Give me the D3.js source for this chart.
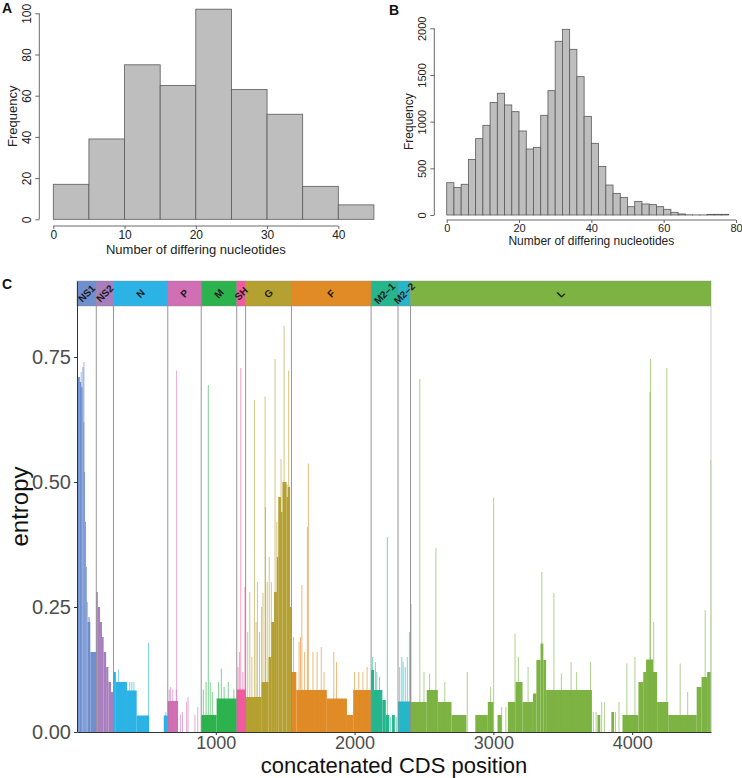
<!DOCTYPE html>
<html>
<head>
<meta charset="utf-8">
<script src="https://cdn.jsdelivr.net/npm/d3@7"></script>
<style>
body { margin: 0; background: #fff; }
svg { display: block; font-family: "Liberation Sans", Arial, sans-serif; }
</style>
</head>
<body>
<div id="chart"></div>
<script>
// panel A histogram
var binsA = [0, 5, 10, 15, 20, 25, 30, 35, 40, 45];
var countsA = [17, 39, 75, 65, 102, 63, 51, 16, 7];
var ticksAx = [0, 10, 20, 30, 40];
var ticksAy = [0, 20, 40, 60, 80, 100];

// panel B histogram
var binsB = [0, 2, 4, 6, 8, 10, 12, 14, 16, 18, 20, 22, 24, 26, 28, 30, 32, 34, 36, 38,
    40, 42, 44, 46, 48, 50, 52, 54, 56, 58, 60, 62, 64, 66, 68, 70, 72, 74, 76, 78, 80];
var countsB = [346, 296, 329, 596, 818, 961, 1204, 1304, 1179, 1107, 900, 707, 725, 1068, 1332,
    1861, 1989, 1775, 1482, 1057, 768, 521, 321, 232, 189, 89, 146, 118, 111, 89, 61, 29, 11,
    2, 1, 1, 7, 7, 7];
var ticksBx = [0, 20, 40, 60, 80];
var ticksBy = [0, 500, 1000, 1500, 2000];

// panel C genes
var genes = ["NS1", "NS2", "N", "P", "M", "SH", "G", "F", "M2\u20131", "M2\u20132", "L"];
var geneStarts = [0, 139, 263, 654, 895, 1151, 1215, 1545, 2119, 2313, 2403];
var geneEnds = [139, 263, 654, 895, 1151, 1215, 1545, 2119, 2313, 2403, 4568];
var geneColors = ["#6f8fcf", "#a77fbe", "#2bb3e6", "#d06fb4", "#2db34d", "#f25aa0",
    "#b5a032", "#e08b26", "#25b68e", "#25b7c9", "#7cb343"];

// entropy: [start, end, value] blocks and single-position [pos, value] spikes
var entropyRuns = [
    [0, 8, 0.60], [8, 20, 0.71], [20, 30, 0.70], [30, 40, 0.69], [40, 46, 0.73], [46, 52, 0.62],
    [52, 58, 0.52], [58, 64, 0.42], [64, 70, 0.33], [70, 76, 0.26], [76, 96, 0.22], [96, 139, 0.16],
    [139, 150, 0.28], [150, 166, 0.25], [166, 180, 0.22], [180, 192, 0.19], [192, 210, 0.16],
    [210, 226, 0.13], [226, 245, 0.10], [245, 263, 0.08],
    [263, 280, 0.12], [280, 360, 0.10], [360, 430, 0.083], [430, 520, 0.033], [625, 654, 0.033],
    [654, 728, 0.062],
    [895, 1006, 0.034], [1006, 1151, 0.067],
    [1151, 1215, 0.085],
    [1215, 1330, 0.07], [1330, 1380, 0.10], [1380, 1400, 0.15], [1400, 1420, 0.22], [1420, 1440, 0.28],
    [1440, 1450, 0.35], [1450, 1470, 0.47], [1470, 1480, 0.44], [1480, 1510, 0.50], [1510, 1520, 0.47],
    [1520, 1535, 0.49], [1535, 1545, 0.25],
    [1545, 1580, 0.12], [1580, 1800, 0.084], [1800, 1945, 0.067], [1945, 1990, 0.034], [1990, 2119, 0.084],
    [2119, 2140, 0.124], [2140, 2200, 0.084], [2200, 2225, 0.064], [2225, 2250, 0.034], [2270, 2290, 0.034],
    [2313, 2403, 0.061],
    [2403, 2520, 0.06], [2520, 2600, 0.084], [2600, 2698, 0.06], [2698, 2806, 0.034], [2870, 2960, 0.034],
    [2960, 3000, 0.06], [3030, 3060, 0.034], [3105, 3160, 0.06], [3160, 3210, 0.10], [3210, 3285, 0.06],
    [3285, 3310, 0.077], [3310, 3340, 0.144], [3340, 3360, 0.177], [3360, 3380, 0.144], [3380, 3710, 0.084],
    [3750, 3770, 0.034], [3850, 3870, 0.04], [3930, 4045, 0.034], [4045, 4080, 0.10], [4080, 4100, 0.12],
    [4100, 4150, 0.145], [4150, 4180, 0.12], [4180, 4260, 0.06], [4260, 4465, 0.034], [4465, 4500, 0.09],
    [4500, 4540, 0.11], [4540, 4568, 0.12]
];
var entropySpikes = [
    [12, 0.71], [30, 0.72], [50, 0.74], [84, 0.23], [90, 0.23],
    [300, 0.125], [380, 0.10], [395, 0.10], [410, 0.10], [515, 0.178], [640, 0.04],
    [665, 0.085], [675, 0.09], [690, 0.085], [715, 0.085], [718, 0.723], [745, 0.035], [760, 0.04],
    [790, 0.06], [800, 0.07], [850, 0.035], [870, 0.05],
    [910, 0.085], [930, 0.10], [946, 0.694], [960, 0.10], [975, 0.08], [1020, 0.10], [1040, 0.127],
    [1060, 0.09], [1090, 0.10], [1130, 0.085],
    [1160, 0.13], [1170, 0.16], [1180, 0.728], [1195, 0.12], [1210, 0.29],
    [1230, 0.2], [1245, 0.28], [1260, 0.15], [1278, 0.664], [1290, 0.22], [1300, 0.30], [1315, 0.2],
    [1330, 0.25], [1340, 0.278], [1355, 0.671], [1358, 0.45], [1370, 0.3], [1385, 0.35], [1400, 0.3],
    [1427, 0.746], [1440, 0.42], [1470, 0.546], [1492, 0.812], [1515, 0.495], [1525, 0.723],
    [1560, 0.19], [1600, 0.18], [1610, 0.19], [1620, 0.294], [1640, 0.16], [1660, 0.41], [1667, 0.537],
    [1700, 0.16], [1730, 0.16], [1760, 0.17], [1780, 0.12], [1850, 0.16], [1870, 0.14], [2000, 0.12],
    [2030, 0.12], [2060, 0.12], [2090, 0.13],
    [2130, 0.15], [2150, 0.14], [2160, 0.12], [2180, 0.11], [2236, 0.39], [2260, 0.03], [2300, 0.03],
    [2325, 0.13], [2340, 0.15], [2350, 0.14], [2365, 0.13], [2380, 0.15], [2395, 0.20],
    [2407, 0.256], [2470, 0.706], [2500, 0.12], [2540, 0.117], [2586, 0.368], [2650, 0.10], [2812, 0.12],
    [2980, 0.09], [3002, 0.469], [3060, 0.05], [3090, 0.05], [3156, 0.197], [3180, 0.15], [3250, 0.13],
    [3349, 0.32], [3436, 0.278], [3490, 0.117], [3560, 0.14], [3600, 0.12], [3700, 0.14], [3720, 0.04],
    [3740, 0.04], [3780, 0.06], [3800, 0.06], [3880, 0.04], [3905, 0.06], [3962, 0.137], [4020, 0.15],
    [4128, 0.68], [4132, 0.746], [4155, 0.22], [4250, 0.728], [4346, 0.137], [4400, 0.08], [4526, 0.244],
    [4567, 0.544]
];
var ticksCx = [1000, 2000, 3000, 4000];
var ticksCy = [0, 0.25, 0.5, 0.75];

var svg = d3.select("#chart").append("svg")
    .attr("width", 742)
    .attr("height", 778);

function drawHist(bins, counts, x, y, xAxisY, yAxisX, ticksX, ticksY, fs, title) {
    var g = svg.append("g");
    g.selectAll("rect")
        .data(counts)
        .enter()
        .append("rect")
        .attr("x", function (d, i) { return x(bins[i]); })
        .attr("y", function (d) { return y(d); })
        .attr("width", function (d, i) { return x(bins[i + 1]) - x(bins[i]); })
        .attr("height", function (d) { return y(0) - y(d); })
        .attr("fill", "#bebebe")
        .attr("stroke", "#5a5a5a")
        .attr("stroke-width", 0.8);

    var xa = g.append("g")
        .attr("transform", `translate(0, ${xAxisY})`)
        .call(d3.axisBottom(x).tickValues(ticksX).tickFormat(d3.format("d"))
            .tickSize(3).tickSizeOuter(0).tickPadding(1));
    var ya = g.append("g")
        .attr("transform", `translate(${yAxisX}, 0)`)
        .call(d3.axisLeft(y).tickValues(ticksY).tickFormat(d3.format("d"))
            .tickSize(4).tickSizeOuter(0));
    [xa, ya].forEach(function (a) {
        a.selectAll("path, line").attr("stroke", "#444").attr("stroke-width", 0.8);
        a.selectAll("text").attr("fill", "#222").style("font-size", fs + "px");
    });
    xa.select(".domain").attr("d", `M${x(ticksX[0])},0H${x(ticksX[ticksX.length - 1])}`);
    ya.select(".domain").attr("d", `M0,${y(ticksY[0])}V${y(ticksY[ticksY.length - 1])}`);
    ya.selectAll("text")
        .attr("x", null).attr("dy", null)
        .attr("text-anchor", "middle")
        .attr("transform", "translate(-8,0) rotate(-90)");

    g.append("text")
        .attr("x", (x(ticksX[0]) + x(ticksX[ticksX.length - 1])) / 2 + title.dx)
        .attr("y", title.xy)
        .attr("text-anchor", "middle")
        .style("font-size", (fs + 1) + "px")
        .attr("fill", "#222")
        .text("Number of differing nucleotides");
    g.append("text")
        .attr("transform", `translate(${title.fx}, ${(y(ticksY[0]) + y(ticksY[ticksY.length - 1])) / 2}) rotate(-90)`)
        .attr("text-anchor", "middle")
        .style("font-size", (fs + 1) + "px")
        .attr("fill", "#222")
        .text("Frequency");
}

var xA = d3.scaleLinear().domain([0, 40]).range([53.3, 338.3]);
var yA = d3.scaleLinear().domain([0, 100]).range([219.3, 13.3]);
drawHist(binsA, countsA, xA, yA, 226, 39.3, ticksAx, ticksAy, 12, { xy: 254, fx: 17, dx: 0 });

var xB = d3.scaleLinear().domain([0, 80]).range([446.7, 736]);
var yB = d3.scaleLinear().domain([0, 2000]).range([215, 28.3]);
drawHist(binsB, countsB, xB, yB, 220, 434.3, ticksBx, ticksBy, 11, { xy: 245, fx: 413, dx: 0 });

// panel letters
[["A", 2, 13], ["B", 389, 15], ["C", 2, 289]].forEach(function (p) {
    svg.append("text").attr("x", p[1]).attr("y", p[2])
        .style("font-size", "14px").style("font-weight", "bold")
        .attr("fill", "#111").text(p[0]);
});

// panel C
var xC = d3.scaleLinear().domain([0, 4568]).range([77, 711]);
var yC = d3.scaleLinear().domain([0, 0.902]).range([732, 281]);
var gC = svg.append("g");

function colorAt(p) {
    var i = d3.bisectRight(geneStarts, p) - 1;
    return geneColors[Math.max(0, i)];
}

gC.selectAll(".run")
    .data(entropyRuns)
    .enter()
    .append("rect")
    .attr("class", "run")
    .attr("x", d => xC(d[0]))
    .attr("width", d => xC(d[1]) - xC(d[0]))
    .attr("y", d => yC(d[2]))
    .attr("height", d => yC(0) - yC(d[2]))
    .attr("fill", d => colorAt(d[0]));

gC.selectAll(".spike")
    .data(entropySpikes)
    .enter()
    .append("rect")
    .attr("class", "spike")
    .attr("x", d => xC(d[0]) - 0.5)
    .attr("width", 1)
    .attr("y", d => yC(d[1]))
    .attr("height", d => yC(0) - yC(d[1]))
    .attr("fill", d => colorAt(d[0]))
    .attr("opacity", 0.6);

// gene separators
var barTop = yC(0.902), barBottom = yC(0.852);
gC.selectAll(".sep")
    .data(geneStarts.slice(1).concat([4568]))
    .enter()
    .append("line")
    .attr("x1", d => xC(d)).attr("x2", d => xC(d))
    .attr("y1", barBottom).attr("y2", yC(0))
    .attr("stroke", (d, i) => i === geneStarts.length - 1 ? "#c8c8c8" : "#8a8a8a")
    .attr("stroke-width", 0.9);

// gene bar
gC.selectAll(".gene")
    .data(genes)
    .enter()
    .append("rect")
    .attr("x", (d, i) => xC(geneStarts[i]))
    .attr("width", (d, i) => xC(geneEnds[i]) - xC(geneStarts[i]))
    .attr("y", barTop)
    .attr("height", barBottom - barTop)
    .attr("fill", (d, i) => geneColors[i])
    .attr("stroke", "#888")
    .attr("stroke-width", 0.4);

gC.selectAll(".glabel")
    .data(genes)
    .enter()
    .append("text")
    .attr("transform", (d, i) => `translate(${(xC(geneStarts[i]) + xC(geneEnds[i])) / 2}, ${(barTop + barBottom) / 2}) rotate(-45)`)
    .attr("text-anchor", "middle")
    .attr("dy", "0.35em")
    .style("font-size", "10px")
    .style("font-weight", "bold")
    .attr("fill", "#1a1a1a")
    .text(d => d);

var xCa = gC.append("g")
    .attr("transform", `translate(0, ${yC(0)})`)
    .call(d3.axisBottom(xC).tickValues(ticksCx).tickFormat(d3.format("d"))
        .tickSize(3).tickSizeOuter(0).tickPadding(1));
var yCa = gC.append("g")
    .attr("transform", `translate(${xC(0)}, 0)`)
    .call(d3.axisLeft(yC).tickValues(ticksCy).tickFormat(d3.format(".2f"))
        .tickSize(3).tickSizeOuter(0).tickPadding(3));
[xCa, yCa].forEach(function (a) {
    a.selectAll("path, line").attr("stroke", "#333").attr("stroke-width", 1);
});
yCa.selectAll("text").attr("fill", "#4d4d4d").style("font-size", "20px");
xCa.selectAll("text").attr("fill", "#4d4d4d").style("font-size", "18px");

gC.append("text")
    .attr("transform", `translate(28, ${(barTop + yC(0)) / 2}) rotate(-90)`)
    .attr("text-anchor", "middle")
    .style("font-size", "24px")
    .attr("fill", "#111")
    .text("entropy");
gC.append("text")
    .attr("x", (xC(0) + xC(4568)) / 2)
    .attr("y", 773)
    .attr("text-anchor", "middle")
    .style("font-size", "22px")
    .attr("fill", "#111")
    .text("concatenated CDS position");
</script>
</body>
</html>
